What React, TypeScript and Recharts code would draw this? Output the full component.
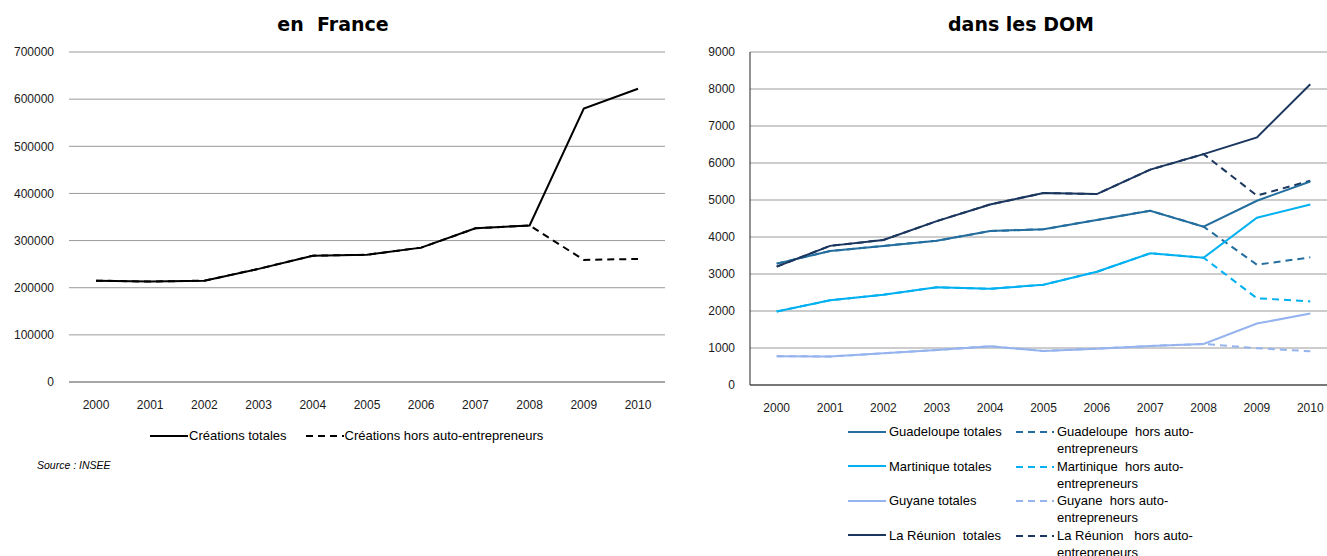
import React from 'react';
import { LineChart, Line, XAxis, YAxis, CartesianGrid } from 'recharts';

const years = ['2000', '2001', '2002', '2003', '2004', '2005', '2006', '2007', '2008', '2009', '2010'];

const franceTotales = [215000, 213000, 215000, 240000, 268000, 270000, 285000, 326000, 332000, 580000, 622000];
const franceHors = [215000, 213000, 215000, 240000, 268000, 270000, 285000, 326000, 332000, 259000, 261000];
const franceTicks = [0, 100000, 200000, 300000, 400000, 500000, 600000, 700000];

const guadeloupeTotales = [3280, 3620, 3760, 3900, 4160, 4210, 4460, 4710, 4280, 4980, 5500];
const guadeloupeHors = [3280, 3620, 3760, 3900, 4160, 4210, 4460, 4710, 4280, 3250, 3450];
const martiniqueTotales = [1985, 2290, 2440, 2640, 2600, 2710, 3060, 3560, 3440, 4520, 4880];
const martiniqueHors = [1985, 2290, 2440, 2640, 2600, 2710, 3060, 3560, 3440, 2345, 2260];
const guyaneTotales = [780, 770, 857, 947, 1046, 920, 983, 1055, 1110, 1660, 1930];
const guyaneHors = [780, 770, 857, 947, 1046, 920, 983, 1055, 1110, 995, 911];
const reunionTotales = [3200, 3760, 3920, 4430, 4880, 5190, 5160, 5820, 6240, 6690, 8130];
const reunionHors = [3200, 3760, 3920, 4430, 4880, 5190, 5160, 5820, 6240, 5120, 5520];
const domTicks = [0, 1000, 2000, 3000, 4000, 5000, 6000, 7000, 8000, 9000];

const franceData = years.map((y, i) => ({ year: y, totales: franceTotales[i], hors: franceHors[i] }));
const domData = years.map((y, i) => ({
  year: y,
  guaT: guadeloupeTotales[i], guaH: guadeloupeHors[i],
  marT: martiniqueTotales[i], marH: martiniqueHors[i],
  guyT: guyaneTotales[i], guyH: guyaneHors[i],
  reuT: reunionTotales[i], reuH: reunionHors[i],
}));

const C_GUA = '#236E9E';
const C_MAR = '#00B0F0';
const C_GUY = '#95B3EE';
const C_REU = '#1B365F';

const FONT = '"Liberation Sans", Arial, sans-serif';
const TITLE_FONT = '"DejaVu Sans", sans-serif';
const tickStyle = { fontSize: 12, fill: '#1a1a1a', fontFamily: FONT };

const domSeries = [
  { name: 'Guadeloupe', t: 'guaT', h: 'guaH', color: C_GUA, label: 'Guadeloupe totales', hlabel: 'Guadeloupe  hors auto-\nentrepreneurs' },
  { name: 'Martinique', t: 'marT', h: 'marH', color: C_MAR, label: 'Martinique totales', hlabel: 'Martinique  hors auto-\nentrepreneurs' },
  { name: 'Guyane', t: 'guyT', h: 'guyH', color: C_GUY, label: 'Guyane totales', hlabel: 'Guyane  hors auto-\nentrepreneurs' },
  { name: 'Réunion', t: 'reuT', h: 'reuH', color: C_REU, label: 'La Réunion  totales', hlabel: 'La Réunion   hors auto-\nentrepreneurs' },
];

const Sample = ({ color, dashed }: { color: string; dashed?: boolean }) => (
  <svg width={38} height={4} style={{ display: 'block' }}>
    <line x1={0} y1={2} x2={38} y2={2} stroke={color} strokeWidth={2} strokeDasharray={dashed ? '7 5' : undefined} />
  </svg>
);

export default function App() {
  return (
    <div style={{ position: 'fixed', left: 0, top: 0, width: 1327, height: 556, overflow: 'hidden', background: '#fff', fontFamily: FONT }}>
      {/* Titles */}
      <div style={{ position: 'absolute', left: 0, width: 666, top: 13, textAlign: 'center', fontWeight: 'bold', fontSize: 19, whiteSpace: 'pre', color: '#000', fontFamily: TITLE_FONT }}>en  France</div>
      <div style={{ position: 'absolute', left: 690, width: 662, top: 13, textAlign: 'center', fontWeight: 'bold', fontSize: 19, whiteSpace: 'pre', color: '#000', fontFamily: TITLE_FONT }}>dans les DOM</div>

      {/* France chart */}
      <div style={{ position: 'absolute', left: 0, top: 0 }}>
        <LineChart width={670} height={440} data={franceData} margin={{ top: 52, right: 5, bottom: 28, left: 0 }}>
          <CartesianGrid vertical={false} stroke="#9a9a9a" strokeWidth={1} />
          <XAxis dataKey="year" height={30} tick={tickStyle} tickLine={false} axisLine={{ stroke: '#7f7f7f' }} padding={{ left: 27, right: 27 }} tickMargin={12} interval={0} />
          <YAxis width={69} domain={[0, 700000]} ticks={franceTicks} tick={tickStyle} tickLine={false} axisLine={false} tickMargin={9} interval={0} />
          <Line dataKey="hors" stroke="#000" strokeWidth={2} strokeDasharray="7 5" dot={false} isAnimationActive={false} />
          <Line dataKey="totales" stroke="#000" strokeWidth={2} dot={false} isAnimationActive={false} />
        </LineChart>
      </div>

      {/* France legend */}
      <div style={{ position: 'absolute', left: 150, top: 428, display: 'flex', alignItems: 'center', fontSize: 13, color: '#000', whiteSpace: 'pre' }}>
        <Sample color="#000" />
        <span style={{ marginLeft: 1 }}>Créations totales</span>
        <span style={{ width: 19 }} />
        <Sample color="#000" dashed />
        <span style={{ marginLeft: 1 }}>Créations hors auto-entrepreneurs</span>
      </div>
      <div style={{ position: 'absolute', left: 37, top: 459, fontSize: 10.5, fontStyle: 'italic', color: '#000' }}>Source : INSEE</div>

      {/* DOM chart */}
      <div style={{ position: 'absolute', left: 690, top: 0 }}>
        <LineChart width={647} height={440} data={domData} margin={{ top: 52, right: 0, bottom: 25, left: 0 }}>
          <CartesianGrid vertical={false} stroke="#9a9a9a" strokeWidth={1} />
          <XAxis dataKey="year" height={30} tick={tickStyle} tickLine={false} axisLine={{ stroke: '#222' }} padding={{ left: 26.7, right: 26.7 }} tickMargin={12} interval={0} />
          <YAxis width={60} domain={[0, 9000]} ticks={domTicks} tick={tickStyle} tickLine={false} axisLine={{ stroke: '#222' }} tickMargin={9} interval={0} />
          {domSeries.map((s) => (
            <Line key={s.h} dataKey={s.h} stroke={s.color} strokeWidth={2} strokeDasharray="7 5" dot={false} isAnimationActive={false} />
          ))}
          {domSeries.map((s) => (
            <Line key={s.t} dataKey={s.t} stroke={s.color} strokeWidth={2} dot={false} isAnimationActive={false} />
          ))}
        </LineChart>
      </div>

      {/* DOM legend */}
      {domSeries.map((s, i) => (
        <React.Fragment key={s.name}>
          <div style={{ position: 'absolute', left: 848, top: 423 + i * 34.5, display: 'flex', alignItems: 'center', fontSize: 13, color: '#000', whiteSpace: 'pre', lineHeight: '17px' }}>
            <Sample color={s.color} />
            <span style={{ marginLeft: 3 }}>{s.label}</span>
          </div>
          <div style={{ position: 'absolute', left: 1016, top: 423 + i * 34.5, display: 'flex', alignItems: 'flex-start', fontSize: 13, color: '#000', whiteSpace: 'pre', lineHeight: '17px' }}>
            <div style={{ marginTop: 7 }}><Sample color={s.color} dashed /></div>
            <span style={{ marginLeft: 3 }}>{s.hlabel}</span>
          </div>
        </React.Fragment>
      ))}
    </div>
  );
}
